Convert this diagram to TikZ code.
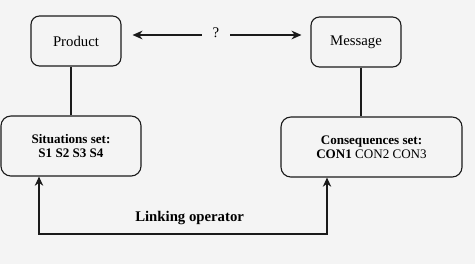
\documentclass[tikz,border=0pt]{standalone}
\usepackage{fontspec}
\setmainfont{Liberation Serif}
\usetikzlibrary{arrows.meta,positioning}
\definecolor{pageGray}{HTML}{F4F4F4}
\definecolor{inkLine}{HTML}{1A1A1A}

\begin{document}
\begin{tikzpicture}[
      topbox/.style={rectangle, rounded corners=6pt, draw=inkLine, line width=0.8pt, minimum width=2.25cm, minimum height=1.25cm, align=center, font=\fontsize{10.5}{12}\selectfont},
      setbox/.style={rectangle, rounded corners=7pt, draw=inkLine, line width=0.8pt, minimum height=1.5cm, align=center, font=\fontsize{9.3}{10}\selectfont},
      arrow/.style={-{Stealth[length=2.5mm, width=2.2mm]}, line width=0.8pt, draw=inkLine},
      biarrow/.style={{Stealth[length=2.3mm, width=2.1mm]}-{Stealth[length=2.3mm, width=2.1mm]}, line width=0.8pt, draw=inkLine}
    ]
      \fill[pageGray] (0,0) rectangle (11.875,-6.6);
      \useasboundingbox (0,0) rectangle (11.875,-6.6);
      \node[topbox] (prod) at (1.9,-1.025) {Product};
      \node[topbox] (msg) at (8.9,-1.05) {Message};
      \node[setbox, minimum width=3.5cm] (sit) at (1.775,-3.65) {\textbf{Situations set:}\\\textbf{S1 S2 S3 S4}};
      \node[setbox, minimum width=4.525cm] (cons) at (9.2875,-3.675) {\textbf{Consequences set:}\\\textbf{CON1} CON2 CON3};
      \node[inner sep=0pt, minimum width=0.7cm, font=\fontsize{10.5}{12}\selectfont] (ques) at (5.4,-0.875) {\raisebox{3pt}{?}};
      \coordinate (lnkL) at (0.975,-5.85);
      \coordinate (lnkR) at (8.175,-5.85);
      \draw[arrow, shorten >=0.275cm] (ques.west) -- (ques.west -| prod.east);
      \draw[arrow, shorten >=0.225cm] (ques.east) -- (ques.east -| msg.west);
      \draw[line width=0.8pt, draw=inkLine] (sit.north) -- (sit.north |- prod.south);
      \draw[line width=0.8pt, draw=inkLine] ([xshift=0.125cm]msg.south) -- ([xshift=0.125cm]msg.south |- cons.north);
      \draw[biarrow] (sit.south -| lnkL) -- (lnkL) -- node[pos=0.523, above=0.09cm, font=\fontsize{10.5}{12}\selectfont\bfseries]{Linking operator} (lnkR) -- (cons.south -| lnkR);
    \end{tikzpicture}
\end{document}
